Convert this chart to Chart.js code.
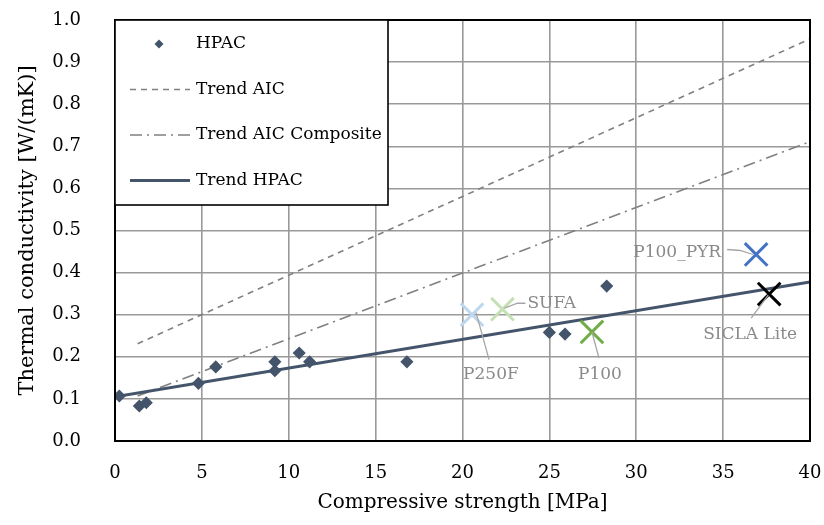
<!DOCTYPE html>
<html>
<head>
<meta charset="utf-8">
<script src="https://cdn.jsdelivr.net/npm/chart.js@4/dist/chart.umd.min.js"></script>
<style>
  html, body { margin: 0; padding: 0; background: #fff; }
  #wrap { width: 824px; height: 525px; position: relative; }
</style>
</head>
<body>
<div id="wrap"><canvas id="chart"></canvas></div>
<script>
// --- data ---
const hpacX = [0.25, 1.4, 1.8, 4.8, 5.8, 9.2, 9.2, 10.6, 11.2, 16.8, 25.0, 25.9, 28.3];
const hpacY = [0.107, 0.083, 0.091, 0.137, 0.176, 0.188, 0.167, 0.209, 0.188, 0.188, 0.258, 0.254, 0.368];

const trendAicX = [1.3, 40];
const trendAicY = [0.231, 0.955];
const trendAicCompX = [1.3, 40];
const trendAicCompY = [0.107, 0.711];
const trendHpacX = [0, 40];
const trendHpacY = [0.105, 0.378];

const productNames = ['P250F', 'SUFA', 'P100', 'P100_PYR', 'SICLA Lite'];
const productX = [20.55, 22.3, 27.45, 36.9, 37.65];
const productY = [0.300, 0.313, 0.259, 0.443, 0.349];

const xTicks = [0, 5, 10, 15, 20, 25, 30, 35, 40];
const yTicks = [0, 0.1, 0.2, 0.3, 0.4, 0.5, 0.6, 0.7, 0.8, 0.9, 1.0];

// --- styles ---
const FONT = 'DejaVu Serif';
const productColors = ['#bdd7ee', '#c5e0b4', '#70ad47', '#4472c4', '#000000'];
// callout: text offset from marker, text align, leader path (offsets from marker)
const callouts = [
  { dx: -9,  dy: 60, align: 'left',  path: [[4, -2], [17, 45]] },
  { dx: 25,  dy: -6, align: 'left',  path: [[2, -1], [15, -6], [23, -6]] },
  { dx: -14, dy: 43, align: 'left',  path: [[0, 0], [7, 26]] },
  { dx: -35, dy: -2, align: 'right', path: [[-29, -5], [-16, -4], [-3, 0]] },
  { dx: -66, dy: 41, align: 'left',  path: [[-1, 1], [-18, 24]] }
];

const pts = (xs, ys) => xs.map((x, i) => ({ x, y: ys[i] }));

const datasets = [
  {
    label: 'HPAC', data: pts(hpacX, hpacY),
    pointStyle: 'rectRot', pointRadius: 5.5, pointBorderWidth: 1.5, pointBackgroundColor: '#44546a',
    pointBorderColor: '#44546a', showLine: false, legendShow: true, order: 1
  },
  {
    label: 'Trend AIC', data: pts(trendAicX, trendAicY), showLine: true,
    borderColor: '#808080', borderWidth: 1.6, borderDash: [6, 5], pointRadius: 0,
    legendShow: true, order: 3
  },
  {
    label: 'Trend AIC Composite', data: pts(trendAicCompX, trendAicCompY), showLine: true,
    borderColor: '#808080', borderWidth: 1.6, borderDash: [12, 5, 2, 5], pointRadius: 0,
    legendShow: true, order: 3
  },
  {
    label: 'Trend HPAC', data: pts(trendHpacX, trendHpacY), showLine: true,
    borderColor: '#44546a', borderWidth: 3, pointRadius: 0, legendShow: true, order: 2
  }
];
productNames.forEach((name, i) => {
  datasets.push({
    label: name, data: [{ x: productX[i], y: productY[i] }], showLine: false,
    pointStyle: 'crossRot', pointRadius: 16, pointBorderWidth: 3,
    pointBorderColor: productColors[i], pointBackgroundColor: productColors[i],
    callout: i, order: 0
  });
});

// frame around the plot area, leader lines + labels, legend box
const decorPlugin = {
  id: 'decor',
  afterDatasetsDraw(chart) {
    const { ctx, chartArea: a } = chart;
    ctx.save();
    ctx.strokeStyle = '#000';
    ctx.lineWidth = 2;
    ctx.strokeRect(a.left, a.top, a.right - a.left, a.bottom - a.top);

    // callouts
    ctx.font = '17px "' + FONT + '"';
    ctx.textBaseline = 'middle';
    chart.data.datasets.forEach((ds, di) => {
      if (ds.callout === undefined) return;
      const el = chart.getDatasetMeta(di).data[0];
      const c = callouts[ds.callout];
      ctx.strokeStyle = '#a6a6a6';
      ctx.lineWidth = 1.3;
      ctx.beginPath();
      c.path.forEach(([px, py], k) => {
        if (k === 0) ctx.moveTo(el.x + px, el.y + py); else ctx.lineTo(el.x + px, el.y + py);
      });
      ctx.stroke();
      ctx.fillStyle = '#8a8a8a';
      ctx.textAlign = c.align;
      ctx.fillText(ds.label, el.x + c.dx, el.y + c.dy);
    });

    // legend
    const lx = a.left, ly = a.top, lw = 273, lh = 185;
    ctx.fillStyle = '#fff';
    ctx.fillRect(lx, ly, lw, lh);
    ctx.strokeStyle = '#000';
    ctx.lineWidth = 1.6;
    ctx.strokeRect(lx, ly, lw, lh);
    ctx.font = '17px "' + FONT + '"';
    ctx.textAlign = 'left';
    ctx.textBaseline = 'middle';
    let row = 0;
    chart.data.datasets.forEach(ds => {
      if (!ds.legendShow) return;
      const cy = ly + 24 + row * 45.5;
      if (ds.showLine) {
        ctx.strokeStyle = ds.borderColor;
        ctx.lineWidth = ds.borderWidth;
        ctx.setLineDash(ds.borderDash || []);
        ctx.beginPath();
        ctx.moveTo(lx + 15, cy);
        ctx.lineTo(lx + 75, cy);
        ctx.stroke();
        ctx.setLineDash([]);
      } else {
        ctx.fillStyle = ds.pointBackgroundColor;
        ctx.beginPath();
        ctx.moveTo(lx + 44, cy - 4.5);
        ctx.lineTo(lx + 48.5, cy);
        ctx.lineTo(lx + 44, cy + 4.5);
        ctx.lineTo(lx + 39.5, cy);
        ctx.closePath();
        ctx.fill();
      }
      ctx.fillStyle = '#000';
      ctx.fillText(ds.label, lx + 81, cy);
      row++;
    });
    ctx.restore();
  }
};

function noPad(s) {
  s.paddingTop = 0; s.paddingBottom = 0; s.paddingLeft = 0; s.paddingRight = 0;
}

new Chart(document.getElementById('chart'), {
  type: 'scatter',
  data: { datasets },
  options: {
    responsive: true,
    maintainAspectRatio: false,
    animation: false,
    layout: { autoPadding: false, padding: { top: 20, right: 14, left: 0, bottom: 0 } },
    plugins: { legend: { display: false }, tooltip: { enabled: false } },
    scales: {
      x: {
        type: 'linear', min: 0, max: 40,
        afterFit(s) { s.height = 84; noPad(s); },
        afterBuildTicks(s) { s.ticks = xTicks.map(v => ({ value: v })); },
        grid: { color: '#999', lineWidth: 1.6, drawTicks: false },
        border: { display: false },
        ticks: { padding: 22, color: '#000', font: { family: FONT, size: 18 } },
        title: {
          display: true, text: 'Compressive strength [MPa]', color: '#000',
          font: { family: FONT, size: 20 }, padding: { top: 0, bottom: 10 }
        }
      },
      y: {
        type: 'linear', min: 0, max: 1.0,
        afterFit(s) { s.width = 115; noPad(s); },
        afterBuildTicks(s) { s.ticks = yTicks.map(v => ({ value: v })); },
        grid: { color: '#999', lineWidth: 1.6, drawTicks: false },
        border: { display: false },
        ticks: {
          padding: 34, color: '#000', font: { family: FONT, size: 18 },
          callback: v => v.toFixed(1)
        },
        title: {
          display: true, text: 'Thermal conductivity [W/(mK)]', color: '#000',
          font: { family: FONT, size: 21 }, padding: { top: 15, bottom: 0 }
        }
      }
    }
  },
  plugins: [decorPlugin]
});
</script>
</body>
</html>
